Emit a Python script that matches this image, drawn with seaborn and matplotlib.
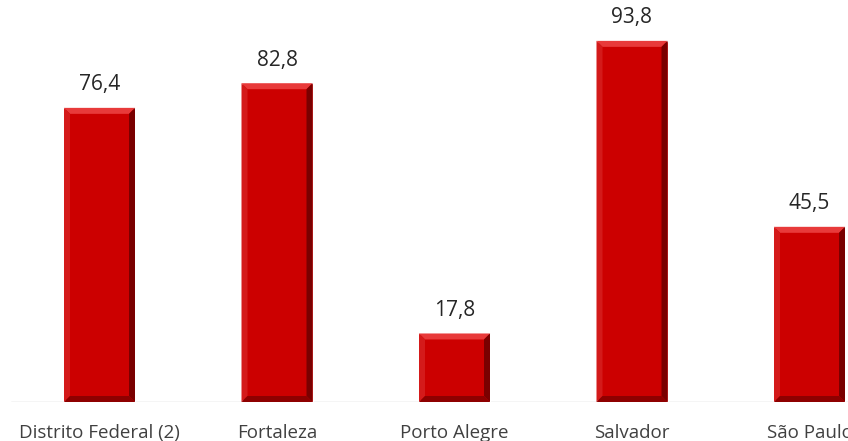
import matplotlib
matplotlib.use("Agg")
import matplotlib.pyplot as plt
import seaborn as sns
import pandas as pd
from matplotlib.patches import Polygon

categories = ["Distrito Federal (2)", "Fortaleza", "Porto Alegre", "Salvador", "São Paulo"]
values = [76.4, 82.8, 17.8, 93.8, 45.5]
labels = ["76,4", "82,8", "17,8", "93,8", "45,5"]

df = pd.DataFrame({"cat": categories, "val": values})

sns.set_theme(style="white")
plt.rcParams['font.family'] = ['Open Sans', 'DejaVu Sans']

fig = plt.figure(figsize=(8.48, 4.41), dpi=100)
W, H = 848, 441
step = 177.5
left_px = 99.5 - step / 2
base_px = 441 - 402
top_px = 441 - 17
ax = fig.add_axes([left_px / W, base_px / H, 5 * step / W, (top_px - base_px) / H])

sns.barplot(data=df, x="cat", y="val", color="#CC0000", width=0.4, saturation=1,
            ax=ax, zorder=2)
ax.set_xlim(-0.5, 4.5)
ax.set_ylim(0, 100)
ax.axhline(0, color="#cfcfcf", lw=1, zorder=1)

# bevel effect
ppu_x = step
ppu_y = (top_px - base_px) / 100.0
bx = 6 / ppu_x
by = 6 / ppu_y
for p in ax.patches:
    x0 = p.get_x(); w = p.get_width(); h = p.get_height()
    x1 = x0 + w
    ax.add_patch(Polygon([(x0, h), (x1, h), (x1 - bx, h - by), (x0 + bx, h - by)],
                         closed=True, color="#e83a3a", lw=0, zorder=3))
    ax.add_patch(Polygon([(x0, 0), (x0, h), (x0 + bx, h - by), (x0 + bx, by)],
                         closed=True, color="#d41a1a", lw=0, zorder=3))
    ax.add_patch(Polygon([(x1, 0), (x1, h), (x1 - bx, h - by), (x1 - bx, by)],
                         closed=True, color="#7a0000", lw=0, zorder=3))
    ax.add_patch(Polygon([(x0, 0), (x1, 0), (x1 - bx, by), (x0 + bx, by)],
                         closed=True, color="#8e0000", lw=0, zorder=3))

for i, (v, lab) in enumerate(zip(values, labels)):
    ax.annotate(lab, (i, v), xytext=(0, 9), textcoords="offset points",
                ha="center", va="bottom", fontsize=15, color="#262626")

ax.set_xlabel("")
ax.set_ylabel("")
ax.set_yticks([])
ax.tick_params(axis="x", length=0, pad=16, labelsize=13.5, labelcolor="#404040")
for s in ax.spines.values():
    s.set_visible(False)

fig.savefig("out.png", dpi=100)
